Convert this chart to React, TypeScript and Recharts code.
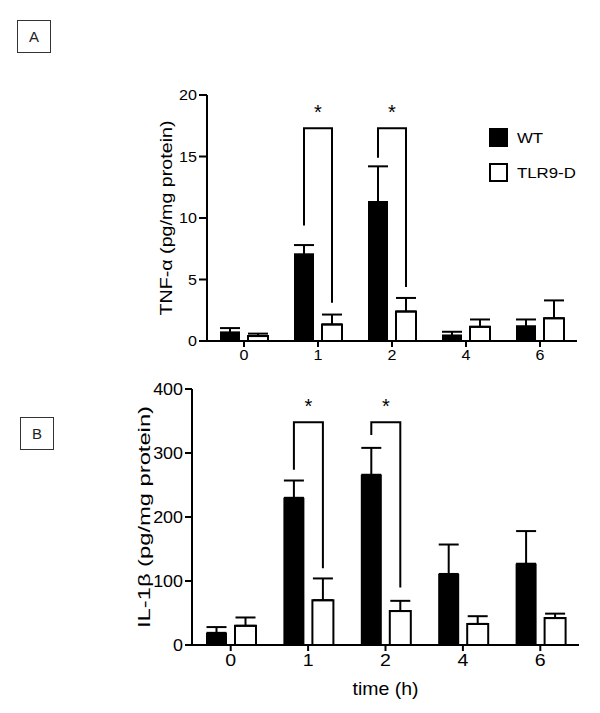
import { BarChart, Bar, XAxis, YAxis, ErrorBar, Legend } from "recharts"

const font = "'Liberation Sans', Arial, sans-serif"

const times = ["0", "1", "2", "4", "6"]
const seriesNames = ["WT", "TLR9-D"]

// TNF-alpha (pg/mg protein)
const tnfWt = [0.7, 7.05, 11.3, 0.45, 1.2]
const tnfWtErr = [0.35, 0.75, 2.9, 0.3, 0.55]
const tnfKo = [0.4, 1.35, 2.4, 1.15, 1.85]
const tnfKoErr = [0.2, 0.8, 1.1, 0.6, 1.45]
const tnfTicks = [0, 5, 10, 15, 20]
// significance brackets: top, left leg end, right leg end
const tnfBracketTop = [null, 17.3, 17.3, null, null]
const tnfBracketLeft = [null, 9.4, 14.9, null, null]
const tnfBracketRight = [null, 3.1, 4.4, null, null]

// IL-1beta (pg/mg protein)
const ilWt = [19, 230, 266, 111, 127]
const ilWtErr = [9, 27, 42, 46, 51]
const ilKo = [30, 70, 53, 33, 42]
const ilKoErr = [13, 34, 16, 12, 7]
const ilTicks = [0, 100, 200, 300, 400]
const ilBracketTop = [null, 348, 348, null, null]
const ilBracketLeft = [null, 274, 328, null, null]
const ilBracketRight = [null, 120, 90, null, null]

const BAR_GAP = 8

const tnfData = times.map((t, i) => ({
  time: t,
  wt: tnfWt[i],
  wtErr: [0, tnfWtErr[i]],
  ko: tnfKo[i],
  koErr: [0, tnfKoErr[i]],
  brTop: tnfBracketTop[i],
  brLeft: tnfBracketLeft[i],
  brRight: tnfBracketRight[i],
}))

const ilData = times.map((t, i) => ({
  time: t,
  wt: ilWt[i],
  wtErr: [0, ilWtErr[i]],
  ko: ilKo[i],
  koErr: [0, ilKoErr[i]],
  brTop: ilBracketTop[i],
  brLeft: ilBracketLeft[i],
  brRight: ilBracketRight[i],
}))

// WT bar plus the significance bracket over the pair
function WtBar(props: any) {
  const { x, y, width, height, payload } = props
  const base = y + height
  let bracket = null
  if (payload && payload.brTop != null && payload.wt) {
    const ppu = height / payload.wt
    const lx = x + width / 2
    const rx = x + width + BAR_GAP + width / 2
    const ty = base - payload.brTop * ppu
    const ly = base - payload.brLeft * ppu
    const ry = base - payload.brRight * ppu
    bracket = (
      <g>
        <path d={`M${lx},${ly}L${lx},${ty}L${rx},${ty}L${rx},${ry}`} fill="none" stroke="#000" strokeWidth={2} />
        <text x={(lx + rx) / 2} y={ty - 9} textAnchor="middle" fontSize={20} fontFamily={font} fill="#000">*</text>
      </g>
    )
  }
  return (
    <g>
      <rect x={x} y={y} width={width} height={height} fill="#000" />
      {bracket}
    </g>
  )
}

// the original typeface is wide, so stretch the glyphs a little
function makeTick(fontSize: number, sx: number, axis: "x" | "y") {
  return (props: any) => {
    const { x, y, payload, textAnchor } = props
    return (
      <g transform={`translate(${x},${y})`}>
        <text
          transform={`scale(${sx},1)`}
          textAnchor={textAnchor}
          dy={axis === "x" ? "0.72em" : "0.36em"}
          fontSize={fontSize}
          fontFamily={font}
          fill="#000"
        >
          {payload.value}
        </text>
      </g>
    )
  }
}

function YTitle(props: any) {
  const { viewBox, value, shift, fontSize, length } = props
  const cx = viewBox.x + shift
  const cy = viewBox.y + viewBox.height / 2
  return (
    <text
      x={cx}
      y={cy}
      transform={`rotate(-90 ${cx} ${cy})`}
      textAnchor="middle"
      dominantBaseline="central"
      fontSize={fontSize}
      fontFamily={font}
      fill="#000"
      textLength={length}
      lengthAdjust="spacingAndGlyphs"
    >
      {value}
    </text>
  )
}

function XTitle(props: any) {
  const { viewBox, value, shift, fontSize, length } = props
  const cx = viewBox.x + viewBox.width / 2
  const cy = viewBox.y + viewBox.height - shift
  return (
    <text
      x={cx}
      y={cy}
      textAnchor="middle"
      fontSize={fontSize}
      fontFamily={font}
      fill="#000"
      textLength={length}
      lengthAdjust="spacingAndGlyphs"
    >
      {value}
    </text>
  )
}

const renderLegend = () => (
  <div style={{ fontFamily: font, fontSize: 15, color: "#000" }}>
    {seriesNames.map((name, i) => (
      <div key={name} style={{ display: "flex", alignItems: "center", height: 19, marginBottom: 16 }}>
        <div
          style={{
            width: i === 0 ? 19 : 15,
            height: i === 0 ? 19 : 15,
            background: i === 0 ? "#000" : "#fff",
            border: i === 0 ? "none" : "2px solid #000",
            marginRight: 9,
          }}
        />
        <span style={{ display: "inline-block", transform: "scaleX(1.12)", transformOrigin: "left center" }}>{name}</span>
      </div>
    ))}
  </div>
)

function PanelLabel({ text, left, top }: { text: string; left: number; top: number }) {
  return (
    <div
      style={{
        position: "absolute",
        left,
        top,
        width: 32,
        height: 31,
        border: "1.5px solid #333",
        fontFamily: font,
        fontSize: 15,
        display: "flex",
        alignItems: "center",
        justifyContent: "center",
        color: "#222",
      }}
    >
      {text}
    </div>
  )
}

const axisProps = {
  stroke: "#000",
  strokeWidth: 2,
  tickLine: { stroke: "#000", strokeWidth: 2 },
}

export default function App() {
  return (
    <div style={{ position: "absolute", left: 0, top: 0, width: 600, height: 713, background: "#fff" }}>
      <PanelLabel text="A" left={17} top={20} />
      <PanelLabel text="B" left={20} top={417} />

      <div style={{ position: "absolute", left: 0, top: 0 }}>
        <BarChart
          width={600}
          height={380}
          data={tnfData}
          margin={{ top: 95, right: 23, bottom: 9, left: 147 }}
          barGap={BAR_GAP}
          barCategoryGap={13}
        >
          <XAxis
            dataKey="time"
            height={30}
            {...axisProps}
            tickSize={6}
            tickMargin={3}
            tick={makeTick(14, 1.15, "x")}
          />
          <YAxis
            width={60}
            domain={[0, 20]}
            ticks={tnfTicks}
            {...axisProps}
            tickSize={8}
            tickMargin={2}
            tick={makeTick(14, 1.15, "y")}
            label={<YTitle value="TNF-α (pg/mg protein)" shift={19} fontSize={17} length={195} />}
          />
          <Legend
            layout="horizontal"
            verticalAlign="middle"
            align="center"
            content={renderLegend}
            wrapperStyle={{ left: 489, top: 128, width: 100 }}
          />
          <Bar dataKey="wt" name={seriesNames[0]} fill="#000" shape={WtBar} isAnimationActive={false}>
            <ErrorBar dataKey="wtErr" width={10} stroke="#000" strokeWidth={2} isAnimationActive={false} />
          </Bar>
          <Bar dataKey="ko" name={seriesNames[1]} fill="#fff" stroke="#000" strokeWidth={2} isAnimationActive={false}>
            <ErrorBar dataKey="koErr" width={10} stroke="#000" strokeWidth={2} isAnimationActive={false} />
          </Bar>
        </BarChart>
      </div>

      <div style={{ position: "absolute", left: 0, top: 370 }}>
        <BarChart
          width={600}
          height={343}
          data={ilData}
          margin={{ top: 19, right: 21, bottom: 10, left: 132 }}
          barGap={BAR_GAP}
          barCategoryGap={14}
        >
          <XAxis
            dataKey="time"
            height={58}
            {...axisProps}
            tickSize={6}
            tickMargin={3}
            tick={makeTick(17, 1.15, "x")}
            label={<XTitle value="time (h)" shift={8} fontSize={19} length={66} />}
          />
          <YAxis
            width={60}
            domain={[0, 400]}
            ticks={ilTicks}
            {...axisProps}
            tickSize={7}
            tickMargin={2}
            tick={makeTick(16, 1.12, "y")}
            label={<YTitle value="IL-1β (pg/mg protein)" shift={12} fontSize={17} length={222} />}
          />
          <Bar dataKey="wt" name={seriesNames[0]} fill="#000" shape={WtBar} isAnimationActive={false}>
            <ErrorBar dataKey="wtErr" width={10} stroke="#000" strokeWidth={2} isAnimationActive={false} />
          </Bar>
          <Bar dataKey="ko" name={seriesNames[1]} fill="#fff" stroke="#000" strokeWidth={2} isAnimationActive={false}>
            <ErrorBar dataKey="koErr" width={10} stroke="#000" strokeWidth={2} isAnimationActive={false} />
          </Bar>
        </BarChart>
      </div>
    </div>
  )
}
